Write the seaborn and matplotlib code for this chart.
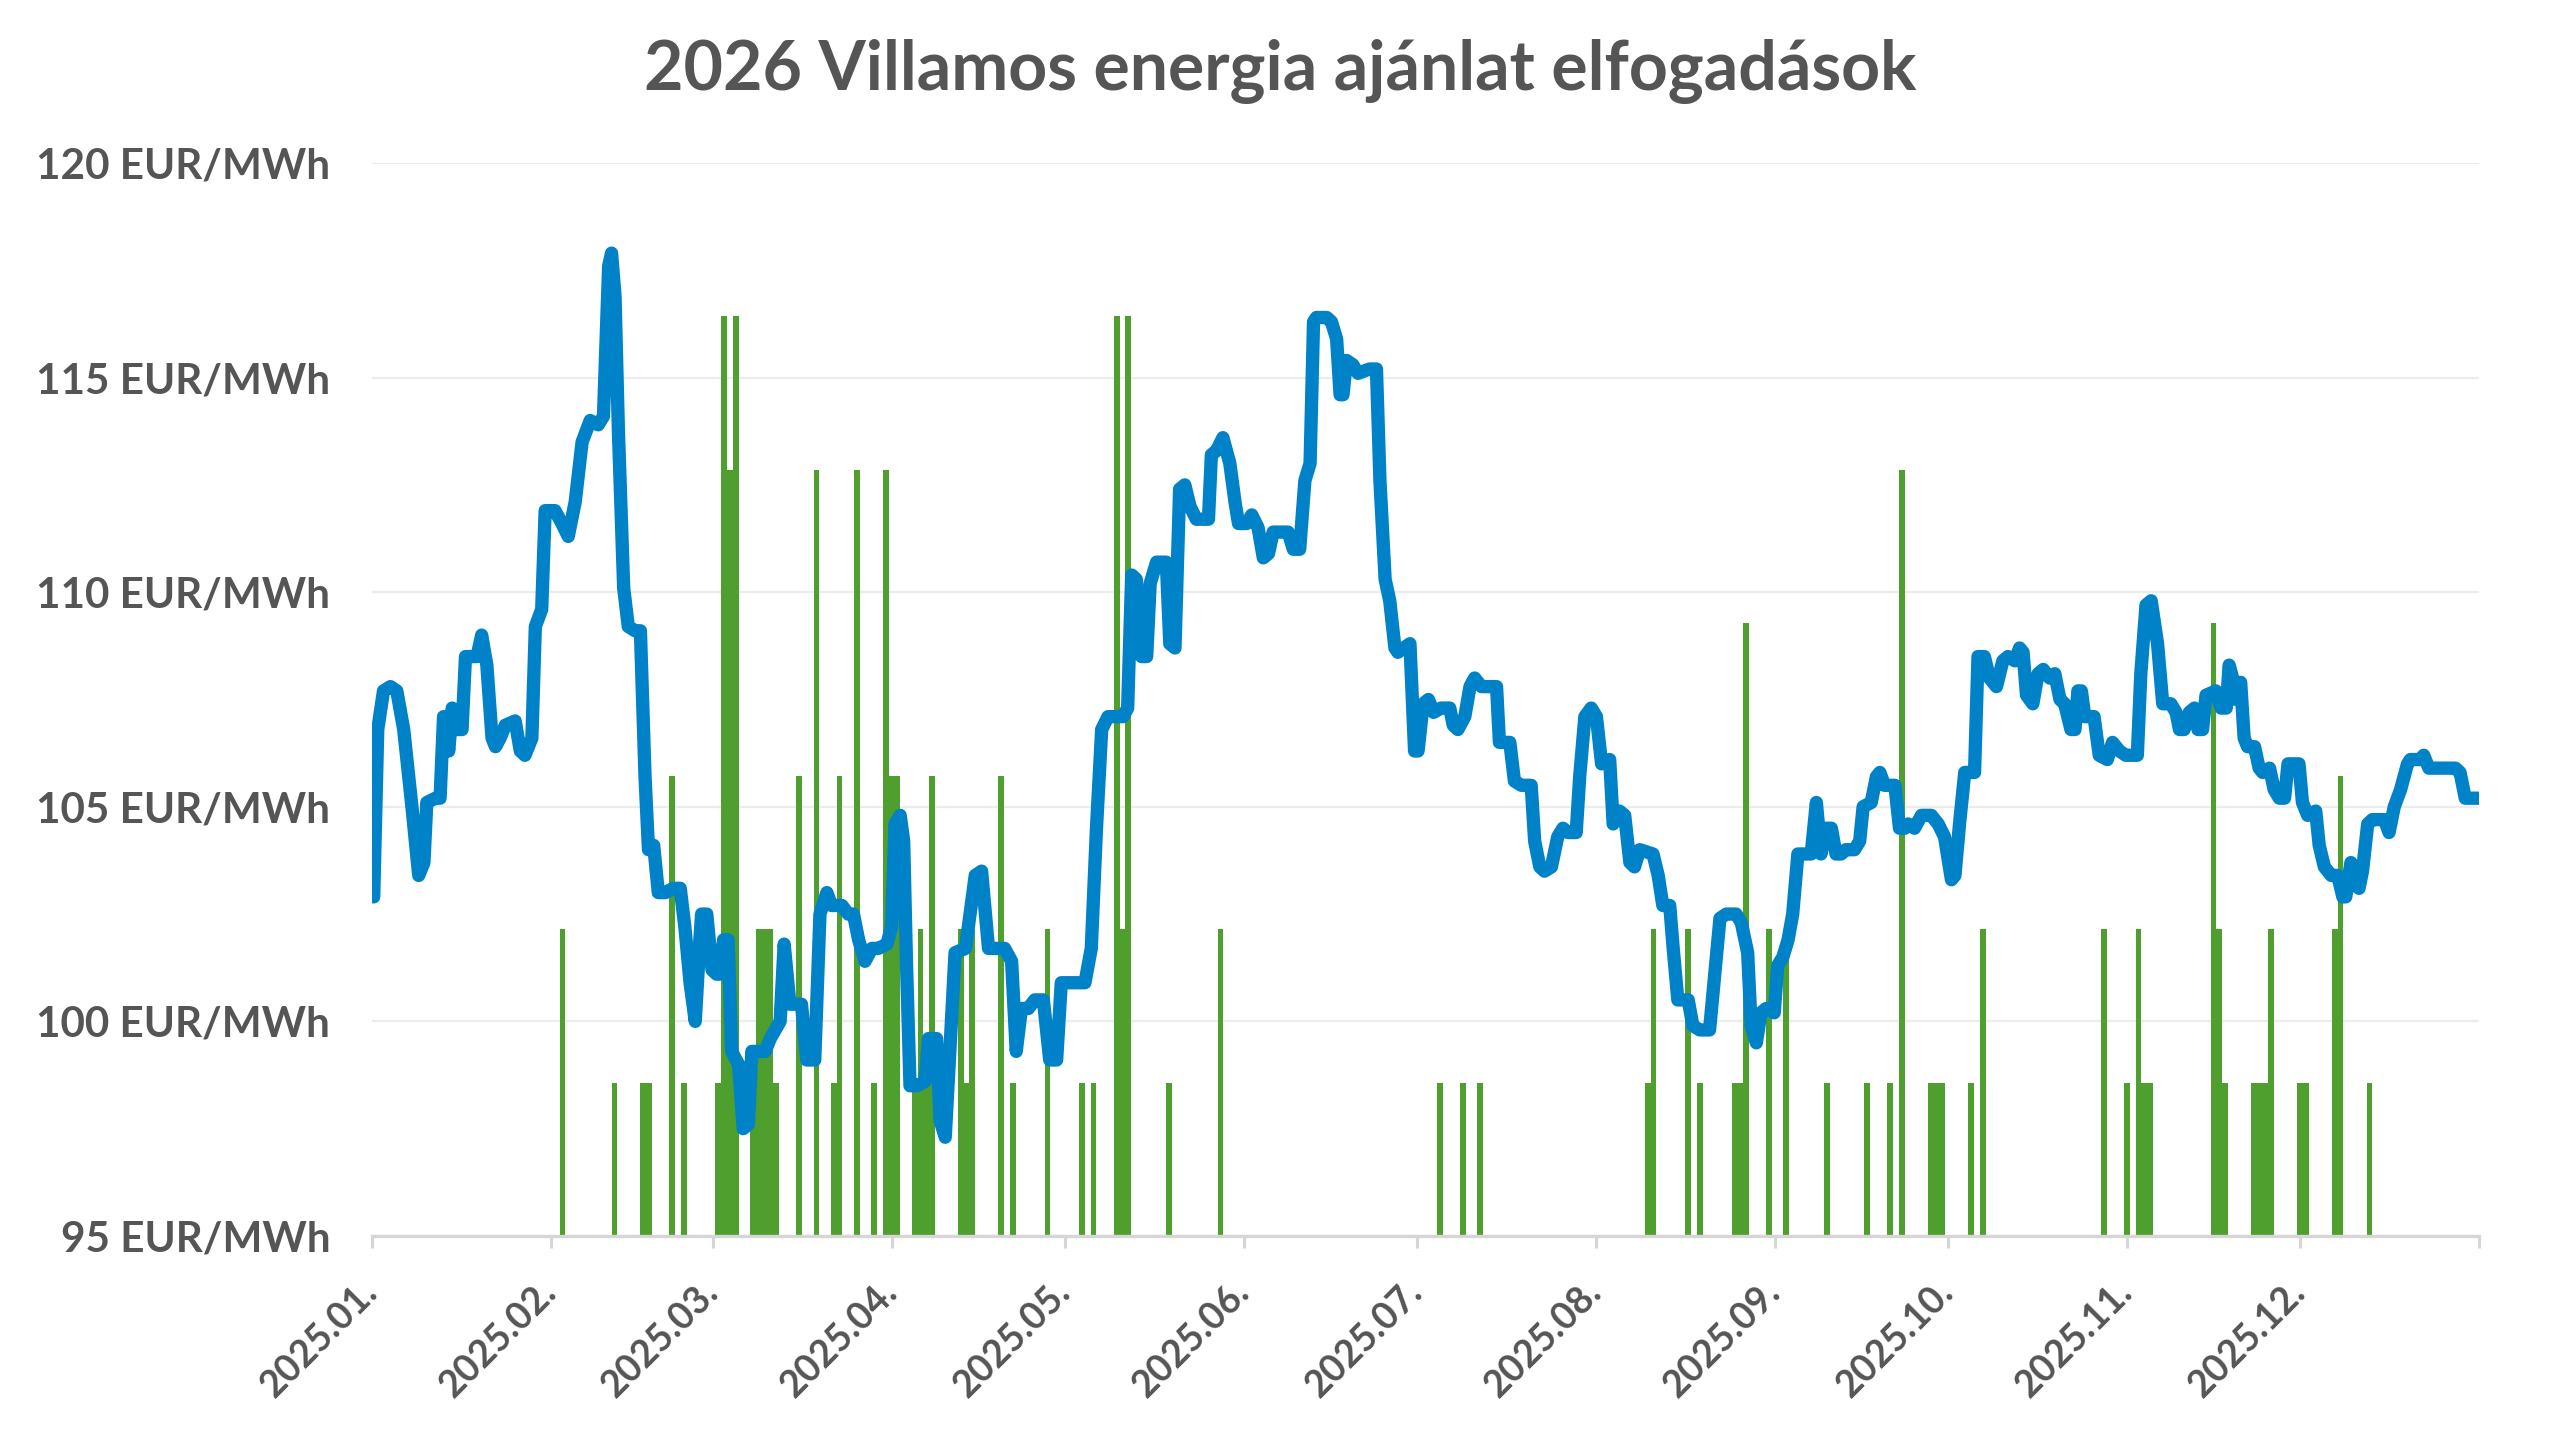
import numpy as np
import pandas as pd
import matplotlib.pyplot as plt
import seaborn as sns

TITLE = "2026 Villamos energia ajánlat elfogadások"
START = pd.Timestamp("2025-01-01")

# Jegyzési ár: nap az év elejétől + ár (EUR/MWh)
price_day = [
    0.3, 1.0, 2.0, 3.2, 4.3, 5.5, 7.0, 8.1, 9.0, 9.5, 11.0, 11.8, 12.4, 13.3, 13.9,
    14.7, 15.6, 16.2, 17.3, 18.2, 19.0, 19.9, 20.8, 21.4, 22.2, 23.1, 24.8, 25.7,
    26.5, 27.7, 28.3, 29.4, 30.0, 31.7, 32.9, 34.0, 35.2, 36.4, 37.8, 39.2, 40.1,
    41.0, 41.5, 42.1, 42.7, 43.6, 44.4, 45.6, 46.5, 47.3, 47.9, 48.8, 49.6, 50.8,
    52.2, 53.4, 54.2, 55.1, 56.0, 56.8, 57.1, 58.0, 58.9, 59.7,
    60.3, 60.9, 61.7, 62.3, 63.5, 64.3, 65.2, 65.8, 66.9, 68.1, 69.0, 70.7, 71.4,
    72.4, 74.4, 75.3, 76.7, 77.6, 78.8, 79.6, 81.4, 82.5, 83.4, 84.3, 85.4, 86.6,
    87.7, 89.2, 90.0, 90.6, 91.5, 92.1, 92.6, 93.2, 94.4, 95.8, 96.4, 97.8, 98.4,
    99.3, 100.1, 101.0, 102.8, 103.3, 104.5, 105.6, 106.8, 109.6, 110.8, 111.6,
    112.5, 113.7, 114.8, 116.3, 117.4, 118.6, 119.4,
    120.6, 123.5, 124.6, 125.5, 126.4, 127.5, 130.1, 130.9, 131.6, 132.4, 133.3,
    134.2, 134.8, 135.9, 137.6, 138.2, 139.1, 139.9, 140.8, 141.7, 142.8, 144.9,
    145.4, 146.3, 147.4, 148.6, 149.5, 150.1, 151.5, 152.4, 153.5, 154.4, 155.3,
    156.1, 158.7, 159.6, 160.7, 161.6, 162.5, 163.1, 163.6, 165.4, 166.2, 167.1,
    167.7, 168.2, 168.8, 169.9, 170.8, 172.8, 174.0, 174.6, 175.5, 176.3, 177.2,
    177.7, 179.8, 180.6, 181.2, 182.1, 183.0, 183.9, 185.2, 186.7, 187.3, 188.1,
    189.3, 190.2, 191.0, 192.2, 194.8, 195.3, 196.2, 197.1, 197.9, 199.1, 200.8,
    201.4, 202.3, 203.1, 204.3, 205.4, 206.3, 207.2, 208.6, 209.2, 210.1, 211.2,
    212.1, 213.0, 214.4, 215.0, 216.1, 217.0, 217.9, 218.7, 219.6, 221.9, 222.8,
    223.6, 224.8, 225.4, 226.2, 228.0, 228.8, 230.0, 231.7, 232.6, 233.5, 234.6,
    236.3,
    237.2, 238.3, 238.9, 239.8, 240.6, 241.5, 242.9, 243.5, 244.4, 245.3, 246.1,
    247.0, 248.2, 249.3, 250.2, 251.0, 251.9, 252.8, 253.6, 254.5, 255.3, 256.8,
    257.7, 258.3, 259.7, 260.6, 261.2, 262.0, 263.8, 264.6, 265.5, 266.1, 267.2,
    268.4, 270.1, 271.3, 272.4, 273.6, 274.2, 275.0, 275.9, 277.6, 278.2, 279.3,
    280.2, 281.4, 282.5, 283.4, 284.6, 285.4, 286.0, 286.6, 287.7, 288.6, 289.5,
    290.6, 291.5, 292.4, 293.2, 294.3, 295.0, 295.5, 296.1,
    296.7, 298.3, 299.2, 300.6, 301.5, 302.7, 303.8, 305.8, 306.4, 307.3, 308.2,
    309.3, 310.2, 311.6, 312.5, 313.1, 313.9, 314.8, 315.7, 316.3, 317.1, 317.7,
    319.4, 320.3, 321.2, 321.7, 322.3, 322.9, 323.7, 324.3, 324.9, 326.1, 326.9,
    327.5, 328.7, 329.5, 330.4, 331.3, 331.9, 333.8, 334.4, 335.3, 336.7, 337.3,
    338.2, 339.4, 340.5, 341.4, 341.9, 342.8, 343.4, 344.2, 344.8, 345.7, 346.5,
    348.6, 349.4, 350.3, 351.4, 352.6, 353.1, 354.8, 355.4, 356.3, 357.7, 360.9,
    361.7, 362.6, 364.0, 365.0,
]
price_value = [
    102.9, 106.8, 107.7, 107.8, 107.7, 106.8, 104.9, 103.4, 103.7, 105.1, 105.2, 105.2,
    107.1, 106.3, 107.3, 106.8, 106.8, 108.5, 108.5, 108.5, 109.0, 108.3, 106.6, 106.4,
    106.6, 106.9, 107.0, 106.3, 106.2, 106.6, 109.2, 109.6, 111.9, 111.9, 111.6, 111.3,
    112.1, 113.5, 114.0, 113.9, 114.1, 117.6, 117.9, 116.9, 113.7, 110.1, 109.2, 109.1,
    109.1, 105.7, 104.0, 104.1, 103.0, 103.0, 103.1, 103.1, 102.2, 100.9, 100.0, 101.9,
    102.5, 102.5, 101.2, 101.1,
    101.1, 101.9, 101.9, 99.3, 99.0, 97.5, 97.6, 99.3, 99.3, 99.3, 99.6, 100.0, 101.8,
    100.4, 100.4, 99.1, 99.1, 102.5, 103.0, 102.7, 102.7, 102.5, 102.5, 101.9, 101.4,
    101.7, 101.7, 101.8, 102.2, 104.6, 104.8, 104.2, 101.3, 98.5, 98.5, 98.6, 99.6,
    99.6, 97.7, 97.3, 99.3, 101.6, 101.7, 102.2, 103.4, 103.5, 101.7, 101.7, 101.4,
    99.3, 100.3, 100.3, 100.5, 100.5, 99.1, 99.1, 100.9,
    100.9, 100.9, 101.7, 104.5, 106.8, 107.1, 107.1, 107.3, 110.4, 110.3, 108.5, 108.5,
    110.2, 110.7, 110.7, 108.8, 108.7, 112.4, 112.5, 112.0, 111.7, 111.7, 113.2, 113.3,
    113.6, 113.0, 112.1, 111.6, 111.6, 111.8, 111.5, 110.8, 110.9, 111.4, 111.4, 111.0,
    111.0, 112.6, 113.0, 116.3, 116.4, 116.4, 116.3, 115.9, 114.6, 114.6, 115.4, 115.3,
    115.1, 115.2, 115.2, 112.6, 110.3, 109.8, 108.7,
    108.6, 108.8, 106.3, 106.3, 107.4, 107.5, 107.2, 107.3, 107.3, 106.9, 106.8, 107.1,
    107.8, 108.0, 107.8, 107.8, 106.5, 106.5, 106.5, 105.6, 105.5, 105.5, 104.2, 103.6,
    103.5, 103.6, 104.3, 104.5, 104.4, 104.4, 105.7, 107.1, 107.3, 107.1, 106.0, 106.1,
    104.6, 104.9, 104.8, 103.7, 103.6, 104.0, 103.9, 103.4, 102.7, 102.7, 101.7, 100.5,
    100.5, 99.9, 99.8, 99.8, 101.1, 102.4, 102.5, 102.5,
    102.3, 101.6, 99.9, 99.5, 100.2, 100.3, 100.2, 101.3, 101.5, 101.9, 102.5, 103.9,
    103.9, 103.9, 105.1, 103.9, 104.5, 104.5, 103.9, 103.9, 104.0, 104.0, 104.2, 105.0,
    105.1, 105.7, 105.8, 105.5, 105.5, 104.5, 104.5, 104.6, 104.5, 104.8, 104.8, 104.6,
    104.3, 103.3, 103.4, 104.6, 105.8, 105.8, 108.5, 108.5, 108.0, 107.8, 108.4, 108.5,
    108.4, 108.7, 108.6, 107.6, 107.4, 108.1, 108.2, 108.0, 108.1, 107.5, 107.4, 106.8,
    106.8, 107.7, 107.7,
    107.1, 107.1, 106.2, 106.1, 106.5, 106.3, 106.2, 106.2, 108.1, 109.7, 109.8, 108.8,
    107.4, 107.4, 107.2, 106.8, 106.8, 107.2, 107.3, 106.8, 106.8, 107.6, 107.7, 107.3,
    107.3, 108.3, 108.0, 107.5, 107.9, 106.6, 106.4, 106.4, 105.9, 105.8, 105.9, 105.4,
    105.2, 105.2, 106.0, 106.0, 105.1, 104.8, 104.9, 104.1, 103.6, 103.4, 103.4, 102.9,
    102.9, 103.7, 103.2, 103.1, 103.5, 104.6, 104.7, 104.7, 104.4, 105.0, 105.4, 106.0,
    106.1, 106.1, 106.2, 105.9, 105.9, 105.9, 105.8, 105.2, 105.2, 105.2,
]

# Ajánlat elfogadások naponta (darab)
accept_date = [
    "2025-02-03", "2025-02-12", "2025-02-17", "2025-02-18", "2025-02-22", "2025-02-24",
    "2025-03-02", "2025-03-03", "2025-03-04", "2025-03-05", "2025-03-08", "2025-03-09",
    "2025-03-10", "2025-03-11", "2025-03-12", "2025-03-16", "2025-03-19", "2025-03-22",
    "2025-03-23", "2025-03-26", "2025-03-29", "2025-03-31", "2025-04-01", "2025-04-02",
    "2025-04-05", "2025-04-06", "2025-04-07", "2025-04-08", "2025-04-13", "2025-04-14",
    "2025-04-15", "2025-04-20", "2025-04-22", "2025-04-28", "2025-05-04", "2025-05-06",
    "2025-05-10", "2025-05-11", "2025-05-12", "2025-05-19", "2025-05-28", "2025-07-05",
    "2025-07-09", "2025-07-12", "2025-08-10", "2025-08-11", "2025-08-17", "2025-08-19",
    "2025-08-25", "2025-08-26", "2025-08-27", "2025-08-31", "2025-09-03", "2025-09-10",
    "2025-09-17", "2025-09-21", "2025-09-23", "2025-09-28", "2025-09-29", "2025-09-30",
    "2025-10-05", "2025-10-07", "2025-10-28", "2025-11-01", "2025-11-03", "2025-11-04",
    "2025-11-05", "2025-11-16", "2025-11-17", "2025-11-18", "2025-11-23", "2025-11-24",
    "2025-11-25", "2025-11-26", "2025-12-01", "2025-12-02", "2025-12-07", "2025-12-08",
    "2025-12-13",
]
accept_count = [
    2, 1, 1, 1, 3, 1,
    1, 6, 5, 6, 1, 2,
    2, 2, 1, 3, 5, 1,
    3, 5, 1, 5, 3, 3,
    1, 2, 1, 3, 2, 1,
    2, 3, 1, 2, 1, 1,
    6, 2, 6, 1, 2, 1,
    1, 1, 1, 2, 2, 1,
    1, 1, 4, 2, 2, 1,
    1, 1, 5, 1, 1, 1,
    1, 2, 2, 1, 2, 1,
    1, 4, 2, 1, 1, 1,
    1, 2, 1, 1, 2, 3,
    1,
]

y_ticks = [95, 100, 105, 110, 115, 120]
month_ticks = pd.date_range("2025-01-01", "2026-01-01", freq="MS")

BLUE = "#0082c9"
GREEN = "#4f9f2e"
TEXT = "#555555"
AXIS = "#d6d6d6"

sns.set_theme(style="white")
plt.rcParams["font.family"] = ["Lato", "DejaVu Sans"]

price = pd.DataFrame({
    "date": START + pd.to_timedelta(price_day, unit="D"),
    "price": price_value,
})
accepts = pd.DataFrame({"date": pd.to_datetime(accept_date), "count": accept_count})

fig, ax = plt.subplots(figsize=(12.8, 7.2), dpi=200)
fig.subplots_adjust(left=0.1453, right=0.9684, top=0.8868, bottom=0.1417)

# oszlopok külön skálán, a vonal alatt
ax2 = ax.twinx()
ax.set_zorder(ax2.get_zorder() + 1)
ax.patch.set_visible(False)

ax2.bar(accepts["date"], accepts["count"], width=1.0, color=GREEN, linewidth=0)
ax2.set_ylim(0, 7)
ax2.set_yticks(np.linspace(0, 7, len(y_ticks)))
ax2.yaxis.grid(True, color="#ececec", linewidth=0.8)
ax2.tick_params(axis="y", right=False, labelright=False)
for s in ax2.spines.values():
    s.set_visible(False)

sns.lineplot(data=price, x="date", y="price", ax=ax, color=BLUE, linewidth=4.8,
             solid_capstyle="round", solid_joinstyle="round")

ax.set_ylim(95, 120)
ax.set_yticks(y_ticks)
ax.set_yticklabels([f"{v} EUR/MWh" for v in y_ticks])
ax.set_xlim(START, pd.Timestamp("2026-01-01"))
ax.set_xticks(month_ticks)
ax.set_xticklabels([d.strftime("%Y.%m.") for d in month_ticks[:-1]] + [""])
ax.set_xlabel("")
ax.set_ylabel("")
ax.grid(False)

ax.tick_params(axis="y", length=0, pad=15, labelsize=15.2, labelcolor=TEXT)
ax.tick_params(axis="x", length=4.3, width=1.1, color=AXIS, pad=14, labelsize=13.5,
               labelcolor=TEXT, bottom=True)
for lbl in ax.get_yticklabels():
    lbl.set_fontweight("bold")
plt.setp(ax.get_xticklabels(), rotation=45, ha="right", va="center",
         rotation_mode="anchor", fontweight="bold")

for side in ["left", "right", "top"]:
    ax.spines[side].set_visible(False)
ax.spines["bottom"].set_color(AXIS)
ax.spines["bottom"].set_linewidth(1.2)

fig.text(0.5, 0.95, TITLE, ha="center", va="center", fontsize=24.5,
         fontweight="bold", color=TEXT)

fig.savefig("out.png", dpi=200, facecolor="white")
